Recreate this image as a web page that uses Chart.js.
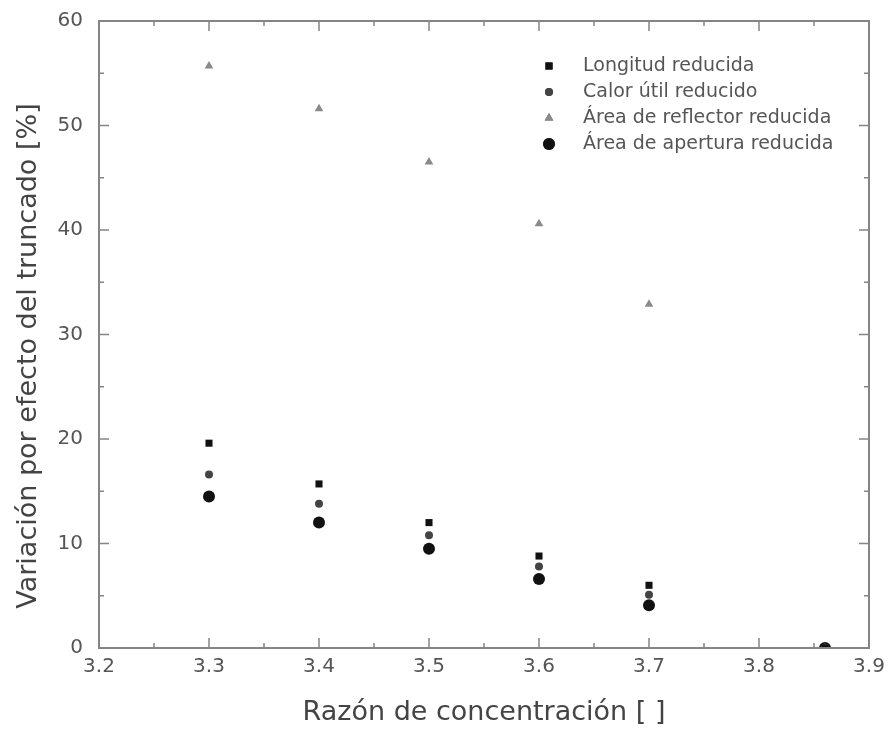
<!DOCTYPE html>
<html>
<head>
<meta charset="utf-8">
<script src="https://cdn.jsdelivr.net/npm/chart.js@4.4.1/dist/chart.umd.min.js"></script>
<style>
    html, body { margin: 0; padding: 0; background: #fff; }
    #wrap { width: 889px; height: 740px; position: relative; }
</style>
</head>
<body>
<div id="wrap"><canvas id="chart"></canvas></div>
<script>
// Razón de concentración (eje x)
const concentracion = [3.3, 3.4, 3.5, 3.6, 3.7, 3.86];

// Variación por efecto del truncado [%]
const longitudReducida = [19.6, 15.7, 12.0, 8.8, 6.0, 0];
const calorUtilReducido = [16.6, 13.8, 10.8, 7.8, 5.1, 0];
const areaReflectorReducida = [55.7, 51.6, 46.5, 40.6, 32.9, 0];
const areaAperturaReducida = [14.5, 12.0, 9.5, 6.6, 4.1, 0];

const xTicks = [3.2, 3.3, 3.4, 3.5, 3.6, 3.7, 3.8, 3.9];
const yTicks = [0, 10, 20, 30, 40, 50, 60];

const yTitle = 'Variación por efecto del truncado [%]';

function toPoints(values) {
    return concentracion.map((x, i) => ({ x: x, y: values[i] }));
}

const axisColor = '#858585';
const textColor = '#555';
const fontFamily = '"DejaVu Sans", sans-serif';

// Marco, marcas hacia dentro, titulo del eje y y leyenda
const boxPlugin = {
    id: 'boxTicks',
    afterDraw(chart) {
        const ctx = chart.ctx;
        const a = chart.chartArea;
        const xs = chart.scales.x, ys = chart.scales.y;
        ctx.save();
        ctx.strokeStyle = axisColor;
        ctx.lineWidth = 2;
        ctx.strokeRect(a.left, a.top, a.right - a.left, a.bottom - a.top);
        ctx.lineWidth = 1.5;
        ctx.beginPath();
        for (let v = xs.min; v <= xs.max + 1e-9; v += 0.05) {
            const px = xs.getPixelForValue(v);
            const major = Math.abs(Math.round(v * 10) - v * 10) < 1e-6;
            const len = major ? 10 : 5;
            ctx.moveTo(px, a.bottom); ctx.lineTo(px, a.bottom - len);
            ctx.moveTo(px, a.top); ctx.lineTo(px, a.top + len);
        }
        for (let v = ys.min; v <= ys.max + 1e-9; v += 5) {
            const py = ys.getPixelForValue(v);
            const len = v % 10 === 0 ? 10 : 5;
            ctx.moveTo(a.left, py); ctx.lineTo(a.left + len, py);
            ctx.moveTo(a.right, py); ctx.lineTo(a.right - len, py);
        }
        ctx.stroke();

        // titulo del eje y (un poco por debajo del centro, como el original)
        ctx.save();
        ctx.translate(29, 356);
        ctx.rotate(-Math.PI / 2);
        ctx.font = '27px ' + fontFamily;
        ctx.fillStyle = '#444';
        ctx.textAlign = 'center';
        ctx.textBaseline = 'middle';
        ctx.fillText(yTitle, 0, 0);
        ctx.restore();

        // Leyenda
        const lx = 549, ly0 = 66, dy = 26;
        ctx.font = '19px ' + fontFamily;
        ctx.textBaseline = 'middle';
        chart.data.datasets.forEach((ds, i) => {
            const y = ly0 + i * dy;
            Chart.helpers.drawPoint(ctx, {
                pointStyle: ds.pointStyle,
                radius: ds.pointRadius,
                rotation: 0,
                borderWidth: 0
            }, lx, y);
            ctx.fillStyle = ds.backgroundColor;
            ctx.fill();
            ctx.fillStyle = textColor;
            ctx.fillText(ds.label, 583, y);
        });
        ctx.restore();
    }
};

const ctx = document.getElementById('chart').getContext('2d');
new Chart(ctx, {
    type: 'scatter',
    data: {
        datasets: [
            {
                label: 'Longitud reducida',
                data: toPoints(longitudReducida),
                pointStyle: 'rect',
                pointRadius: 5,
                backgroundColor: '#111',
                borderWidth: 0
            },
            {
                label: 'Calor útil reducido',
                data: toPoints(calorUtilReducido),
                pointStyle: 'circle',
                pointRadius: 4,
                backgroundColor: '#444',
                borderWidth: 0
            },
            {
                label: 'Área de reflector reducida',
                data: toPoints(areaReflectorReducida),
                pointStyle: 'triangle',
                pointRadius: 5,
                backgroundColor: '#8a8a8a',
                borderWidth: 0
            },
            {
                label: 'Área de apertura reducida',
                data: toPoints(areaAperturaReducida),
                pointStyle: 'circle',
                pointRadius: 6,
                backgroundColor: '#111',
                borderWidth: 0
            }
        ]
    },
    options: {
        responsive: true,
        maintainAspectRatio: false,
        animation: false,
        layout: { padding: { left: 0, right: 20, top: 21, bottom: 0 } },
        plugins: {
            legend: { display: false },
            tooltip: { enabled: false }
        },
        scales: {
            x: {
                type: 'linear',
                min: 3.2,
                max: 3.9,
                afterBuildTicks: s => { s.ticks = xTicks.map(v => ({ value: v })); },
                afterFit: s => {
                    s.height = 92;
                    s.paddingLeft = 0;
                    s.paddingRight = 0;
                },
                grid: { display: false, drawTicks: false },
                border: { display: false },
                ticks: {
                    padding: 7,
                    color: textColor,
                    font: { family: fontFamily, size: 20 },
                    callback: v => v.toFixed(1)
                },
                title: {
                    display: true,
                    text: 'Razón de concentración [ ]',
                    color: '#444',
                    font: { family: fontFamily, size: 27 },
                    padding: { top: 0, bottom: 11 }
                }
            },
            y: {
                type: 'linear',
                min: 0,
                max: 60,
                afterBuildTicks: s => { s.ticks = yTicks.map(v => ({ value: v })); },
                afterFit: s => {
                    s.width = 99;
                    s.paddingTop = 0;
                    s.paddingBottom = 0;
                },
                grid: { display: false, drawTicks: false },
                border: { display: false },
                ticks: {
                    padding: 16,
                    color: textColor,
                    font: { family: fontFamily, size: 20 }
                },
                title: { display: false }
            }
        }
    },
    plugins: [boxPlugin]
});
</script>
</body>
</html>
